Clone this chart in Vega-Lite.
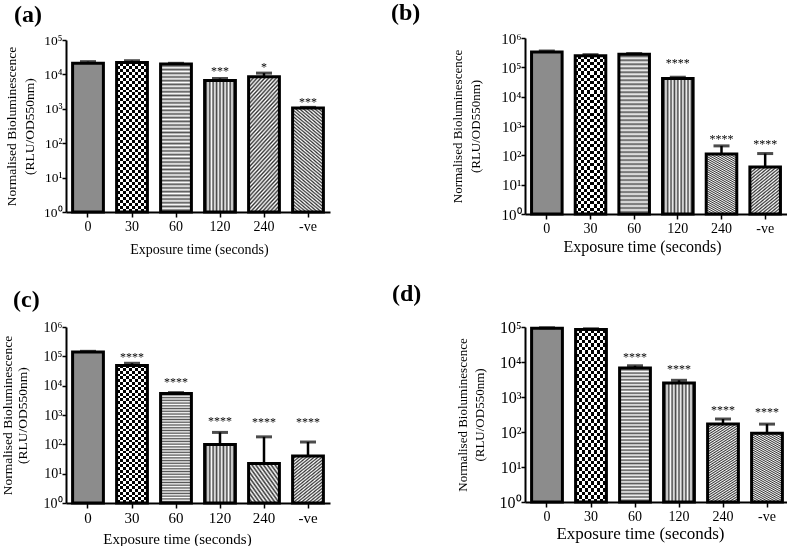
{
"$schema":"https://vega.github.io/schema/vega-lite/v6.json",
"background":"white",
"padding":{"left":0,"top":1,"right":0,"bottom":0},
"params":[
{"name":"g60","value":{"gradient":"linear","x1":0,"y1":0,"x2":0,"y2":1,"stops":[{"offset":0,"color":"#fff"},{"offset":0.0125,"color":"#555"},{"offset":0.025,"color":"#fff"},{"offset":0.0375,"color":"#555"},{"offset":0.05,"color":"#fff"},{"offset":0.0625,"color":"#555"},{"offset":0.075,"color":"#fff"},{"offset":0.0875,"color":"#555"},{"offset":0.1,"color":"#fff"},{"offset":0.1125,"color":"#555"},{"offset":0.125,"color":"#fff"},{"offset":0.1375,"color":"#555"},{"offset":0.15,"color":"#fff"},{"offset":0.1625,"color":"#555"},{"offset":0.175,"color":"#fff"},{"offset":0.1875,"color":"#555"},{"offset":0.2,"color":"#fff"},{"offset":0.2125,"color":"#555"},{"offset":0.225,"color":"#fff"},{"offset":0.2375,"color":"#555"},{"offset":0.25,"color":"#fff"},{"offset":0.2625,"color":"#555"},{"offset":0.275,"color":"#fff"},{"offset":0.2875,"color":"#555"},{"offset":0.3,"color":"#fff"},{"offset":0.3125,"color":"#555"},{"offset":0.325,"color":"#fff"},{"offset":0.3375,"color":"#555"},{"offset":0.35,"color":"#fff"},{"offset":0.3625,"color":"#555"},{"offset":0.375,"color":"#fff"},{"offset":0.3875,"color":"#555"},{"offset":0.4,"color":"#fff"},{"offset":0.4125,"color":"#555"},{"offset":0.425,"color":"#fff"},{"offset":0.4375,"color":"#555"},{"offset":0.45,"color":"#fff"},{"offset":0.4625,"color":"#555"},{"offset":0.475,"color":"#fff"},{"offset":0.4875,"color":"#555"},{"offset":0.5,"color":"#fff"},{"offset":0.5125,"color":"#555"},{"offset":0.525,"color":"#fff"},{"offset":0.5375,"color":"#555"},{"offset":0.55,"color":"#fff"},{"offset":0.5625,"color":"#555"},{"offset":0.575,"color":"#fff"},{"offset":0.5875,"color":"#555"},{"offset":0.6,"color":"#fff"},{"offset":0.6125,"color":"#555"},{"offset":0.625,"color":"#fff"},{"offset":0.6375,"color":"#555"},{"offset":0.65,"color":"#fff"},{"offset":0.6625,"color":"#555"},{"offset":0.675,"color":"#fff"},{"offset":0.6875,"color":"#555"},{"offset":0.7,"color":"#fff"},{"offset":0.7125,"color":"#555"},{"offset":0.725,"color":"#fff"},{"offset":0.7375,"color":"#555"},{"offset":0.75,"color":"#fff"},{"offset":0.7625,"color":"#555"},{"offset":0.775,"color":"#fff"},{"offset":0.7875,"color":"#555"},{"offset":0.8,"color":"#fff"},{"offset":0.8125,"color":"#555"},{"offset":0.825,"color":"#fff"},{"offset":0.8375,"color":"#555"},{"offset":0.85,"color":"#fff"},{"offset":0.8625,"color":"#555"},{"offset":0.875,"color":"#fff"},{"offset":0.8875,"color":"#555"},{"offset":0.9,"color":"#fff"},{"offset":0.9125,"color":"#555"},{"offset":0.925,"color":"#fff"},{"offset":0.9375,"color":"#555"},{"offset":0.95,"color":"#fff"},{"offset":0.9625,"color":"#555"},{"offset":0.975,"color":"#fff"},{"offset":0.9875,"color":"#555"},{"offset":1,"color":"#fff"}]}},
{"name":"g120","value":{"gradient":"linear","x1":0,"y1":0,"x2":1,"y2":0,"stops":[{"offset":0,"color":"#fff"},{"offset":0.0556,"color":"#444"},{"offset":0.1111,"color":"#fff"},{"offset":0.1667,"color":"#444"},{"offset":0.2222,"color":"#fff"},{"offset":0.2778,"color":"#444"},{"offset":0.3333,"color":"#fff"},{"offset":0.3889,"color":"#444"},{"offset":0.4444,"color":"#fff"},{"offset":0.5,"color":"#444"},{"offset":0.5556,"color":"#fff"},{"offset":0.6111,"color":"#444"},{"offset":0.6667,"color":"#fff"},{"offset":0.7222,"color":"#444"},{"offset":0.7778,"color":"#fff"},{"offset":0.8333,"color":"#444"},{"offset":0.8889,"color":"#fff"},{"offset":0.9444,"color":"#444"},{"offset":1,"color":"#fff"}]}},
{"name":"g240","value":{"gradient":"linear","x1":0,"y1":0,"x2":0.294,"y2":1.176,"stops":[{"offset":0,"color":"#fff"},{"offset":0.0125,"color":"#333"},{"offset":0.025,"color":"#fff"},{"offset":0.0375,"color":"#333"},{"offset":0.05,"color":"#fff"},{"offset":0.0625,"color":"#333"},{"offset":0.075,"color":"#fff"},{"offset":0.0875,"color":"#333"},{"offset":0.1,"color":"#fff"},{"offset":0.1125,"color":"#333"},{"offset":0.125,"color":"#fff"},{"offset":0.1375,"color":"#333"},{"offset":0.15,"color":"#fff"},{"offset":0.1625,"color":"#333"},{"offset":0.175,"color":"#fff"},{"offset":0.1875,"color":"#333"},{"offset":0.2,"color":"#fff"},{"offset":0.2125,"color":"#333"},{"offset":0.225,"color":"#fff"},{"offset":0.2375,"color":"#333"},{"offset":0.25,"color":"#fff"},{"offset":0.2625,"color":"#333"},{"offset":0.275,"color":"#fff"},{"offset":0.2875,"color":"#333"},{"offset":0.3,"color":"#fff"},{"offset":0.3125,"color":"#333"},{"offset":0.325,"color":"#fff"},{"offset":0.3375,"color":"#333"},{"offset":0.35,"color":"#fff"},{"offset":0.3625,"color":"#333"},{"offset":0.375,"color":"#fff"},{"offset":0.3875,"color":"#333"},{"offset":0.4,"color":"#fff"},{"offset":0.4125,"color":"#333"},{"offset":0.425,"color":"#fff"},{"offset":0.4375,"color":"#333"},{"offset":0.45,"color":"#fff"},{"offset":0.4625,"color":"#333"},{"offset":0.475,"color":"#fff"},{"offset":0.4875,"color":"#333"},{"offset":0.5,"color":"#fff"},{"offset":0.5125,"color":"#333"},{"offset":0.525,"color":"#fff"},{"offset":0.5375,"color":"#333"},{"offset":0.55,"color":"#fff"},{"offset":0.5625,"color":"#333"},{"offset":0.575,"color":"#fff"},{"offset":0.5875,"color":"#333"},{"offset":0.6,"color":"#fff"},{"offset":0.6125,"color":"#333"},{"offset":0.625,"color":"#fff"},{"offset":0.6375,"color":"#333"},{"offset":0.65,"color":"#fff"},{"offset":0.6625,"color":"#333"},{"offset":0.675,"color":"#fff"},{"offset":0.6875,"color":"#333"},{"offset":0.7,"color":"#fff"},{"offset":0.7125,"color":"#333"},{"offset":0.725,"color":"#fff"},{"offset":0.7375,"color":"#333"},{"offset":0.75,"color":"#fff"},{"offset":0.7625,"color":"#333"},{"offset":0.775,"color":"#fff"},{"offset":0.7875,"color":"#333"},{"offset":0.8,"color":"#fff"},{"offset":0.8125,"color":"#333"},{"offset":0.825,"color":"#fff"},{"offset":0.8375,"color":"#333"},{"offset":0.85,"color":"#fff"},{"offset":0.8625,"color":"#333"},{"offset":0.875,"color":"#fff"},{"offset":0.8875,"color":"#333"},{"offset":0.9,"color":"#fff"},{"offset":0.9125,"color":"#333"},{"offset":0.925,"color":"#fff"},{"offset":0.9375,"color":"#333"},{"offset":0.95,"color":"#fff"},{"offset":0.9625,"color":"#333"},{"offset":0.975,"color":"#fff"},{"offset":0.9875,"color":"#333"},{"offset":1,"color":"#fff"}]}},
{"name":"gneg","value":{"gradient":"linear","x1":1,"y1":0,"x2":0.706,"y2":1.176,"stops":[{"offset":0,"color":"#fff"},{"offset":0.0125,"color":"#333"},{"offset":0.025,"color":"#fff"},{"offset":0.0375,"color":"#333"},{"offset":0.05,"color":"#fff"},{"offset":0.0625,"color":"#333"},{"offset":0.075,"color":"#fff"},{"offset":0.0875,"color":"#333"},{"offset":0.1,"color":"#fff"},{"offset":0.1125,"color":"#333"},{"offset":0.125,"color":"#fff"},{"offset":0.1375,"color":"#333"},{"offset":0.15,"color":"#fff"},{"offset":0.1625,"color":"#333"},{"offset":0.175,"color":"#fff"},{"offset":0.1875,"color":"#333"},{"offset":0.2,"color":"#fff"},{"offset":0.2125,"color":"#333"},{"offset":0.225,"color":"#fff"},{"offset":0.2375,"color":"#333"},{"offset":0.25,"color":"#fff"},{"offset":0.2625,"color":"#333"},{"offset":0.275,"color":"#fff"},{"offset":0.2875,"color":"#333"},{"offset":0.3,"color":"#fff"},{"offset":0.3125,"color":"#333"},{"offset":0.325,"color":"#fff"},{"offset":0.3375,"color":"#333"},{"offset":0.35,"color":"#fff"},{"offset":0.3625,"color":"#333"},{"offset":0.375,"color":"#fff"},{"offset":0.3875,"color":"#333"},{"offset":0.4,"color":"#fff"},{"offset":0.4125,"color":"#333"},{"offset":0.425,"color":"#fff"},{"offset":0.4375,"color":"#333"},{"offset":0.45,"color":"#fff"},{"offset":0.4625,"color":"#333"},{"offset":0.475,"color":"#fff"},{"offset":0.4875,"color":"#333"},{"offset":0.5,"color":"#fff"},{"offset":0.5125,"color":"#333"},{"offset":0.525,"color":"#fff"},{"offset":0.5375,"color":"#333"},{"offset":0.55,"color":"#fff"},{"offset":0.5625,"color":"#333"},{"offset":0.575,"color":"#fff"},{"offset":0.5875,"color":"#333"},{"offset":0.6,"color":"#fff"},{"offset":0.6125,"color":"#333"},{"offset":0.625,"color":"#fff"},{"offset":0.6375,"color":"#333"},{"offset":0.65,"color":"#fff"},{"offset":0.6625,"color":"#333"},{"offset":0.675,"color":"#fff"},{"offset":0.6875,"color":"#333"},{"offset":0.7,"color":"#fff"},{"offset":0.7125,"color":"#333"},{"offset":0.725,"color":"#fff"},{"offset":0.7375,"color":"#333"},{"offset":0.75,"color":"#fff"},{"offset":0.7625,"color":"#333"},{"offset":0.775,"color":"#fff"},{"offset":0.7875,"color":"#333"},{"offset":0.8,"color":"#fff"},{"offset":0.8125,"color":"#333"},{"offset":0.825,"color":"#fff"},{"offset":0.8375,"color":"#333"},{"offset":0.85,"color":"#fff"},{"offset":0.8625,"color":"#333"},{"offset":0.875,"color":"#fff"},{"offset":0.8875,"color":"#333"},{"offset":0.9,"color":"#fff"},{"offset":0.9125,"color":"#333"},{"offset":0.925,"color":"#fff"},{"offset":0.9375,"color":"#333"},{"offset":0.95,"color":"#fff"},{"offset":0.9625,"color":"#333"},{"offset":0.975,"color":"#fff"},{"offset":0.9875,"color":"#333"},{"offset":1,"color":"#fff"}]}},
{"name":"g30h","value":{"gradient":"linear","x1":0,"y1":0,"x2":0,"y2":1,"stops":[{"offset":0,"color":"#000"},{"offset":0.02,"color":"#000"},{"offset":0.02,"color":"#fff"},{"offset":0.04,"color":"#fff"},{"offset":0.04,"color":"#000"},{"offset":0.06,"color":"#000"},{"offset":0.06,"color":"#fff"},{"offset":0.08,"color":"#fff"},{"offset":0.08,"color":"#000"},{"offset":0.1,"color":"#000"},{"offset":0.1,"color":"#fff"},{"offset":0.12,"color":"#fff"},{"offset":0.12,"color":"#000"},{"offset":0.14,"color":"#000"},{"offset":0.14,"color":"#fff"},{"offset":0.16,"color":"#fff"},{"offset":0.16,"color":"#000"},{"offset":0.18,"color":"#000"},{"offset":0.18,"color":"#fff"},{"offset":0.2,"color":"#fff"},{"offset":0.2,"color":"#000"},{"offset":0.22,"color":"#000"},{"offset":0.22,"color":"#fff"},{"offset":0.24,"color":"#fff"},{"offset":0.24,"color":"#000"},{"offset":0.26,"color":"#000"},{"offset":0.26,"color":"#fff"},{"offset":0.28,"color":"#fff"},{"offset":0.28,"color":"#000"},{"offset":0.3,"color":"#000"},{"offset":0.3,"color":"#fff"},{"offset":0.32,"color":"#fff"},{"offset":0.32,"color":"#000"},{"offset":0.34,"color":"#000"},{"offset":0.34,"color":"#fff"},{"offset":0.36,"color":"#fff"},{"offset":0.36,"color":"#000"},{"offset":0.38,"color":"#000"},{"offset":0.38,"color":"#fff"},{"offset":0.4,"color":"#fff"},{"offset":0.4,"color":"#000"},{"offset":0.42,"color":"#000"},{"offset":0.42,"color":"#fff"},{"offset":0.44,"color":"#fff"},{"offset":0.44,"color":"#000"},{"offset":0.46,"color":"#000"},{"offset":0.46,"color":"#fff"},{"offset":0.48,"color":"#fff"},{"offset":0.48,"color":"#000"},{"offset":0.5,"color":"#000"},{"offset":0.5,"color":"#fff"},{"offset":0.52,"color":"#fff"},{"offset":0.52,"color":"#000"},{"offset":0.54,"color":"#000"},{"offset":0.54,"color":"#fff"},{"offset":0.56,"color":"#fff"},{"offset":0.56,"color":"#000"},{"offset":0.58,"color":"#000"},{"offset":0.58,"color":"#fff"},{"offset":0.6,"color":"#fff"},{"offset":0.6,"color":"#000"},{"offset":0.62,"color":"#000"},{"offset":0.62,"color":"#fff"},{"offset":0.64,"color":"#fff"},{"offset":0.64,"color":"#000"},{"offset":0.66,"color":"#000"},{"offset":0.66,"color":"#fff"},{"offset":0.68,"color":"#fff"},{"offset":0.68,"color":"#000"},{"offset":0.7,"color":"#000"},{"offset":0.7,"color":"#fff"},{"offset":0.72,"color":"#fff"},{"offset":0.72,"color":"#000"},{"offset":0.74,"color":"#000"},{"offset":0.74,"color":"#fff"},{"offset":0.76,"color":"#fff"},{"offset":0.76,"color":"#000"},{"offset":0.78,"color":"#000"},{"offset":0.78,"color":"#fff"},{"offset":0.8,"color":"#fff"},{"offset":0.8,"color":"#000"},{"offset":0.82,"color":"#000"},{"offset":0.82,"color":"#fff"},{"offset":0.84,"color":"#fff"},{"offset":0.84,"color":"#000"},{"offset":0.86,"color":"#000"},{"offset":0.86,"color":"#fff"},{"offset":0.88,"color":"#fff"},{"offset":0.88,"color":"#000"},{"offset":0.9,"color":"#000"},{"offset":0.9,"color":"#fff"},{"offset":0.92,"color":"#fff"},{"offset":0.92,"color":"#000"},{"offset":0.94,"color":"#000"},{"offset":0.94,"color":"#fff"},{"offset":0.96,"color":"#fff"},{"offset":0.96,"color":"#000"},{"offset":0.98,"color":"#000"},{"offset":0.98,"color":"#fff"},{"offset":1,"color":"#fff"}]}},
{"name":"g30v","value":{"gradient":"linear","x1":0,"y1":0,"x2":1,"y2":0,"stops":[{"offset":0,"color":"#fff"},{"offset":0.1,"color":"#fff"},{"offset":0.1,"color":"rgba(255,255,255,0)"},{"offset":0.2,"color":"rgba(255,255,255,0)"},{"offset":0.2,"color":"#fff"},{"offset":0.3,"color":"#fff"},{"offset":0.3,"color":"rgba(255,255,255,0)"},{"offset":0.4,"color":"rgba(255,255,255,0)"},{"offset":0.4,"color":"#fff"},{"offset":0.5,"color":"#fff"},{"offset":0.5,"color":"rgba(255,255,255,0)"},{"offset":0.6,"color":"rgba(255,255,255,0)"},{"offset":0.6,"color":"#fff"},{"offset":0.7,"color":"#fff"},{"offset":0.7,"color":"rgba(255,255,255,0)"},{"offset":0.8,"color":"rgba(255,255,255,0)"},{"offset":0.8,"color":"#fff"},{"offset":0.9,"color":"#fff"},{"offset":0.9,"color":"rgba(255,255,255,0)"},{"offset":1,"color":"rgba(255,255,255,0)"}]}}
],
"data":{"values":[
{"p":"a","t":"0","v":21000,"e":23500},
{"p":"a","t":"30","v":22000,"e":25000},
{"p":"a","t":"60","v":20000,"e":21000},
{"p":"a","t":"120","v":6600,"e":7600,"sy":9300,"s":"***"},
{"p":"a","t":"240","v":8500,"e":10900,"sy":12200,"s":"*"},
{"p":"a","t":"-ve","v":1060,"e":1100,"sy":1180,"s":"***"},
{"p":"b","t":"0","v":330000,"e":360000},
{"p":"b","t":"30","v":250000,"e":270000},
{"p":"b","t":"60","v":280000,"e":295000},
{"p":"b","t":"120","v":42000,"e":46000,"sy":105000,"s":"****"},
{"p":"b","t":"240","v":110,"e":210,"sy":273,"s":"****"},
{"p":"b","t":"-ve","v":40,"e":115,"sy":184,"s":"****"},
{"p":"c","t":"0","v":140000,"e":148000},
{"p":"c","t":"30","v":49000,"e":58000,"sy":69000,"s":"****"},
{"p":"c","t":"60","v":5400,"e":5800,"sy":9400,"s":"****"},
{"p":"c","t":"120","v":98,"e":255,"sy":462,"s":"****"},
{"p":"c","t":"240","v":22,"e":180,"sy":437,"s":"****"},
{"p":"c","t":"-ve","v":40,"e":120,"sy":437,"s":"****"},
{"p":"d","t":"0","v":92000,"e":95000},
{"p":"d","t":"30","v":85000,"e":89000},
{"p":"d","t":"60","v":6700,"e":7800,"sy":10600,"s":"****"},
{"p":"d","t":"120","v":2500,"e":3000,"sy":4800,"s":"****"},
{"p":"d","t":"240","v":170,"e":235,"sy":319,"s":"****"},
{"p":"d","t":"-ve","v":92,"e":168,"sy":286,"s":"****"}
]},
"columns":2,
"spacing":{"row":113,"column":195},
"bounds":"flush",
"center":true,
"concat":[
{"width":264,"height":172,
 "title":{"text":"(a)","dx":-52,"offset":6},
 "transform":[{"filter":"datum.p==='a'"}],
 "encoding":{"x":{"field":"t","type":"nominal","sort":["0","30","60","120","240","-ve"],"scale":{"paddingInner":0.3,"paddingOuter":0.15},"axis":{"title":"Exposure time (seconds)","titleFontSize":14,"labelFontSize":14,"titleX":133,"titleY":41,"titleBaseline":"alphabetic"}}},
 "layer":[
  {"mark":{"type":"bar","fill":{"expr":"datum.t==='0' ? '#8c8c8c' : datum.t==='30' ? g30h : datum.t==='60' ? g60 : datum.t==='120' ? g120 : datum.t==='240' ? g240 : gneg"}},
   "encoding":{"y":{"field":"v","type":"quantitative","scale":{"type":"log","domain":[1,100000]},"axis":{"values":[1,10,100,1000,10000,100000],"labelExpr":"'10' + ['⁰','¹','²','³','⁴','⁵','⁶'][round(log(datum.value)/LN10)]","labelFontSize":13.5,"title":["Normalised Bioluminescence","(RLU/OD550nm)"],"titleFontSize":13.5,"titlePadding":7.5,"titleLineHeight":18}},"y2":{"datum":1}}},
  {"transform":[{"filter":"datum.t==='30'"}],"mark":{"type":"bar","fill":{"expr":"g30v"},"blend":"difference"},"encoding":{"y":{"field":"v","type":"quantitative"},"y2":{"datum":1}}},
  {"mark":{"type":"bar","fill":"transparent","stroke":"black","strokeWidth":3},"encoding":{"y":{"field":"v","type":"quantitative"},"y2":{"datum":1}}},
  {"mark":{"type":"rule","color":"black","strokeWidth":2.5},"encoding":{"y":{"field":"v","type":"quantitative"},"y2":{"field":"e"}}},
  {"mark":{"type":"tick","color":"black","thickness":3,"size":16},"encoding":{"y":{"field":"e","type":"quantitative"}}},
  {"transform":[{"filter":"datum.s"}],"mark":{"type":"text","fontSize":12,"baseline":"alphabetic","color":"black"},"encoding":{"y":{"field":"sy","type":"quantitative"},"text":{"field":"s"}}}
 ]},
{"width":262,"height":176,
 "title":{"text":"(b)","dx":-134,"offset":6},
 "transform":[{"filter":"datum.p==='b'"}],
 "encoding":{"x":{"field":"t","type":"nominal","sort":["0","30","60","120","240","-ve"],"scale":{"paddingInner":0.3,"paddingOuter":0.15},"axis":{"title":"Exposure time (seconds)","titleFontSize":16,"labelFontSize":14,"titleX":117,"titleY":37,"titleBaseline":"alphabetic"}}},
 "layer":[
  {"mark":{"type":"bar","fill":{"expr":"datum.t==='0' ? '#8c8c8c' : datum.t==='30' ? g30h : datum.t==='60' ? g60 : datum.t==='120' ? g120 : datum.t==='240' ? g240 : gneg"}},
   "encoding":{"y":{"field":"v","type":"quantitative","scale":{"type":"log","domain":[1,1000000]},"axis":{"values":[1,10,100,1000,10000,100000,1000000],"labelExpr":"'10' + ['⁰','¹','²','³','⁴','⁵','⁶'][round(log(datum.value)/LN10)]","labelFontSize":15,"title":["Normalised Bioluminescence","(RLU/OD550nm)"],"titleFontSize":13,"titlePadding":18.5,"titleLineHeight":18}},"y2":{"datum":1}}},
  {"transform":[{"filter":"datum.t==='30'"}],"mark":{"type":"bar","fill":{"expr":"g30v"},"blend":"difference"},"encoding":{"y":{"field":"v","type":"quantitative"},"y2":{"datum":1}}},
  {"mark":{"type":"bar","fill":"transparent","stroke":"black","strokeWidth":3},"encoding":{"y":{"field":"v","type":"quantitative"},"y2":{"datum":1}}},
  {"mark":{"type":"rule","color":"black","strokeWidth":2.5},"encoding":{"y":{"field":"v","type":"quantitative"},"y2":{"field":"e"}}},
  {"mark":{"type":"tick","color":"black","thickness":3,"size":16},"encoding":{"y":{"field":"e","type":"quantitative"}}},
  {"transform":[{"filter":"datum.s"}],"mark":{"type":"text","fontSize":12,"baseline":"alphabetic","color":"black"},"encoding":{"y":{"field":"sy","type":"quantitative"},"text":{"field":"s"}}}
 ]},
{"width":264,"height":176,
 "title":{"text":"(c)","dx":-53,"offset":8},
 "transform":[{"filter":"datum.p==='c'"}],
 "encoding":{"x":{"field":"t","type":"nominal","sort":["0","30","60","120","240","-ve"],"scale":{"paddingInner":0.3,"paddingOuter":0.15},"axis":{"title":"Exposure time (seconds)","titleFontSize":15,"labelFontSize":15,"titleX":111,"titleY":40,"titleBaseline":"alphabetic"}}},
 "layer":[
  {"mark":{"type":"bar","fill":{"expr":"datum.t==='0' ? '#8c8c8c' : datum.t==='30' ? g30h : datum.t==='60' ? g60 : datum.t==='120' ? g120 : datum.t==='240' ? g240 : gneg"}},
   "encoding":{"y":{"field":"v","type":"quantitative","scale":{"type":"log","domain":[1,1000000]},"axis":{"values":[1,10,100,1000,10000,100000,1000000],"labelExpr":"'10' + ['⁰','¹','²','³','⁴','⁵','⁶'][round(log(datum.value)/LN10)]","labelFontSize":14,"title":["Normalised Bioluminescence","(RLU/OD550nm)"],"titleFontSize":13.5,"titlePadding":13.5,"titleLineHeight":15}},"y2":{"datum":1}}},
  {"transform":[{"filter":"datum.t==='30'"}],"mark":{"type":"bar","fill":{"expr":"g30v"},"blend":"difference"},"encoding":{"y":{"field":"v","type":"quantitative"},"y2":{"datum":1}}},
  {"mark":{"type":"bar","fill":"transparent","stroke":"black","strokeWidth":3},"encoding":{"y":{"field":"v","type":"quantitative"},"y2":{"datum":1}}},
  {"mark":{"type":"rule","color":"black","strokeWidth":2.5},"encoding":{"y":{"field":"v","type":"quantitative"},"y2":{"field":"e"}}},
  {"mark":{"type":"tick","color":"black","thickness":3,"size":16},"encoding":{"y":{"field":"e","type":"quantitative"}}},
  {"transform":[{"filter":"datum.s"}],"mark":{"type":"text","fontSize":12,"baseline":"alphabetic","color":"black"},"encoding":{"y":{"field":"sy","type":"quantitative"},"text":{"field":"s"}}}
 ]},
{"width":264,"height":175,
 "title":{"text":"(d)","dx":-133,"offset":13},
 "transform":[{"filter":"datum.p==='d'"}],
 "encoding":{"x":{"field":"t","type":"nominal","sort":["0","30","60","120","240","-ve"],"scale":{"paddingInner":0.3,"paddingOuter":0.15},"axis":{"title":"Exposure time (seconds)","titleFontSize":17,"labelFontSize":14,"titleX":115,"titleY":36,"titleBaseline":"alphabetic"}}},
 "layer":[
  {"mark":{"type":"bar","fill":{"expr":"datum.t==='0' ? '#8c8c8c' : datum.t==='30' ? g30h : datum.t==='60' ? g60 : datum.t==='120' ? g120 : datum.t==='240' ? g240 : gneg"}},
   "encoding":{"y":{"field":"v","type":"quantitative","scale":{"type":"log","domain":[1,100000]},"axis":{"values":[1,10,100,1000,10000,100000],"labelExpr":"'10' + ['⁰','¹','²','³','⁴','⁵','⁶'][round(log(datum.value)/LN10)]","labelFontSize":16,"title":["Normalised Bioluminescence","(RLU/OD550nm)"],"titleFontSize":13,"titlePadding":13,"titleLineHeight":17}},"y2":{"datum":1}}},
  {"transform":[{"filter":"datum.t==='30'"}],"mark":{"type":"bar","fill":{"expr":"g30v"},"blend":"difference"},"encoding":{"y":{"field":"v","type":"quantitative"},"y2":{"datum":1}}},
  {"mark":{"type":"bar","fill":"transparent","stroke":"black","strokeWidth":3},"encoding":{"y":{"field":"v","type":"quantitative"},"y2":{"datum":1}}},
  {"mark":{"type":"rule","color":"black","strokeWidth":2.5},"encoding":{"y":{"field":"v","type":"quantitative"},"y2":{"field":"e"}}},
  {"mark":{"type":"tick","color":"black","thickness":3,"size":16},"encoding":{"y":{"field":"e","type":"quantitative"}}},
  {"transform":[{"filter":"datum.s"}],"mark":{"type":"text","fontSize":12,"baseline":"alphabetic","color":"black"},"encoding":{"y":{"field":"sy","type":"quantitative"},"text":{"field":"s"}}}
 ]}
],
"config":{
 "view":{"stroke":null},
 "font":"Liberation Serif",
 "axis":{"grid":false,"domainColor":"black","domainWidth":2,"tickColor":"black","tickWidth":1.5,"tickSize":5,"labelColor":"black","labelFont":"Liberation Serif","labelFontSize":14,"titleFont":"Liberation Serif","titleColor":"black","titleFontWeight":"normal"},
 "axisX":{"labelAngle":0},
 "axisY":{"tickSize":4,"labelPadding":0},
 "title":{"font":"Liberation Serif","fontWeight":"bold","fontSize":24,"color":"black","anchor":"start","frame":"group","baseline":"alphabetic"}
}
}
